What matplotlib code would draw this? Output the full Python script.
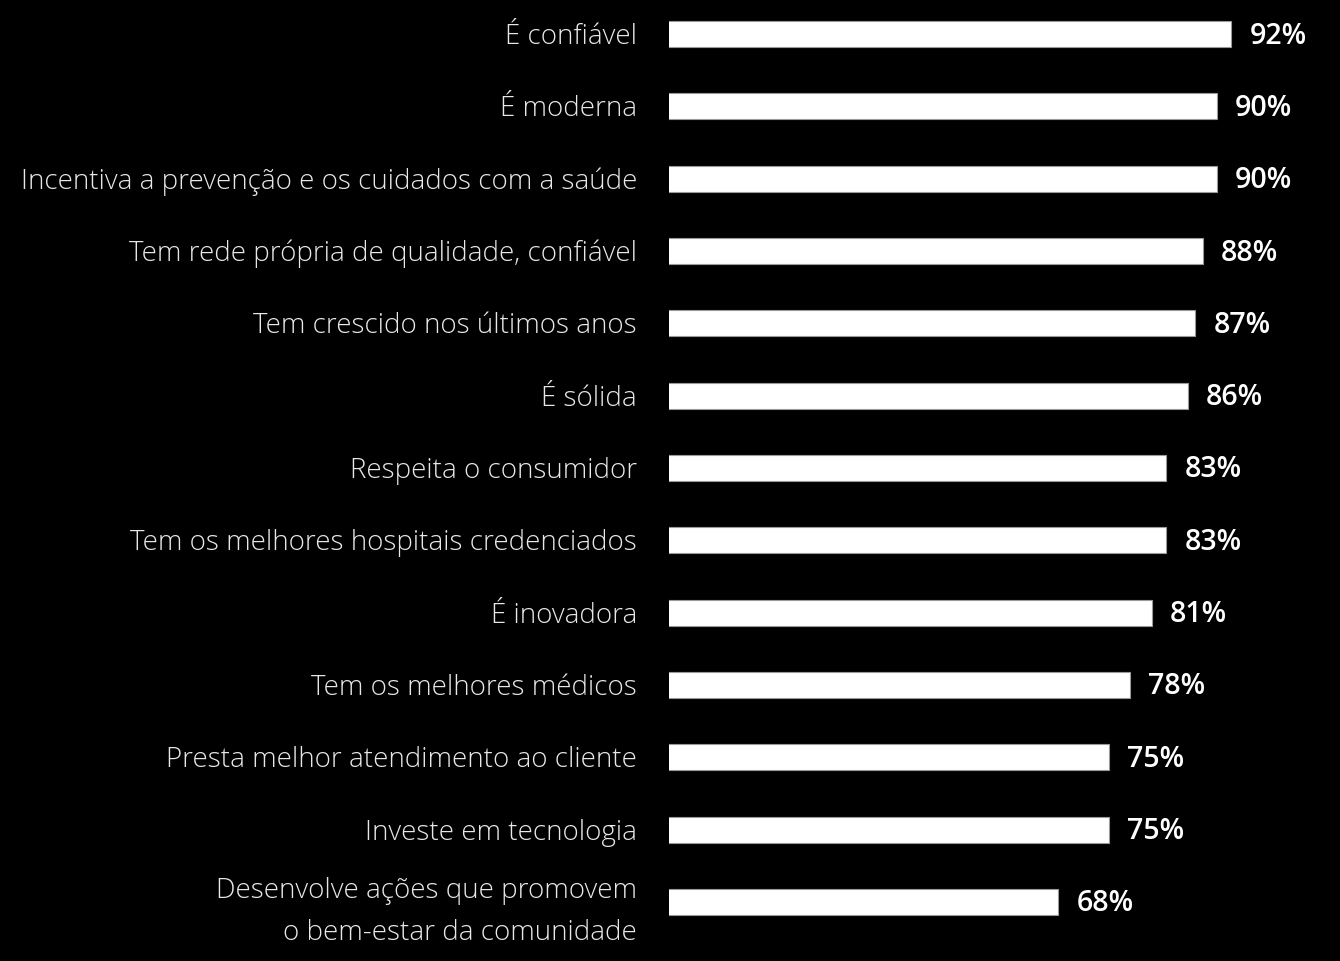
import matplotlib
matplotlib.use("Agg")
import matplotlib.pyplot as plt

categories = [
    "É confiável",
    "É moderna",
    "Incentiva a prevenção e os cuidados com a saúde",
    "Tem rede própria de qualidade, confiável",
    "Tem crescido nos últimos anos",
    "É sólida",
    "Respeita o consumidor",
    "Tem os melhores hospitais credenciados",
    "É inovadora",
    "Tem os melhores médicos",
    "Presta melhor atendimento ao cliente",
    "Investe em tecnologia",
    "Desenvolve ações que promovem\no bem-estar da comunidade",
]
values = [92, 90, 90, 88, 87, 86, 83, 83, 81, 78, 75, 75, 68]

W, H = 1340, 962
fig = plt.figure(figsize=(W / 100, H / 100), dpi=100, facecolor="black")
ax_left = 669 / W
ax = fig.add_axes([ax_left, 0, 1 - ax_left, 1])
ax.set_facecolor("black")

px_per_unit = 7.21
x0 = 14
ax.set_xlim(x0, x0 + (W - 669) / px_per_unit)
row = 72.33
ax.set_ylim(12 + (H - 903) / row, -35 / row)

ys = list(range(len(values)))
ax.barh(ys, values, height=26 / row, color="white", edgecolor="#9a9a9a", linewidth=0.8)

for y, v, c in zip(ys, values, categories):
    ax.annotate(f"{v}%", xy=(v, y), xytext=(18, -1), textcoords="offset pixels",
                ha="left", va="center", color="white", fontsize=20.5,
                fontweight="semibold", family="Open Sans")
    dy = -9 if "\n" in c else -2
    ax.annotate(c, xy=(x0, y), xytext=(-32, dy), textcoords="offset pixels",
                ha="right", va="center", color="#e8e8e8", fontsize=20,
                fontweight="light", family="Open Sans", linespacing=1.67)

for s in ax.spines.values():
    s.set_visible(False)
ax.set_xticks([])
ax.set_yticks([])

fig.savefig("out.png", dpi=100, facecolor="black")
